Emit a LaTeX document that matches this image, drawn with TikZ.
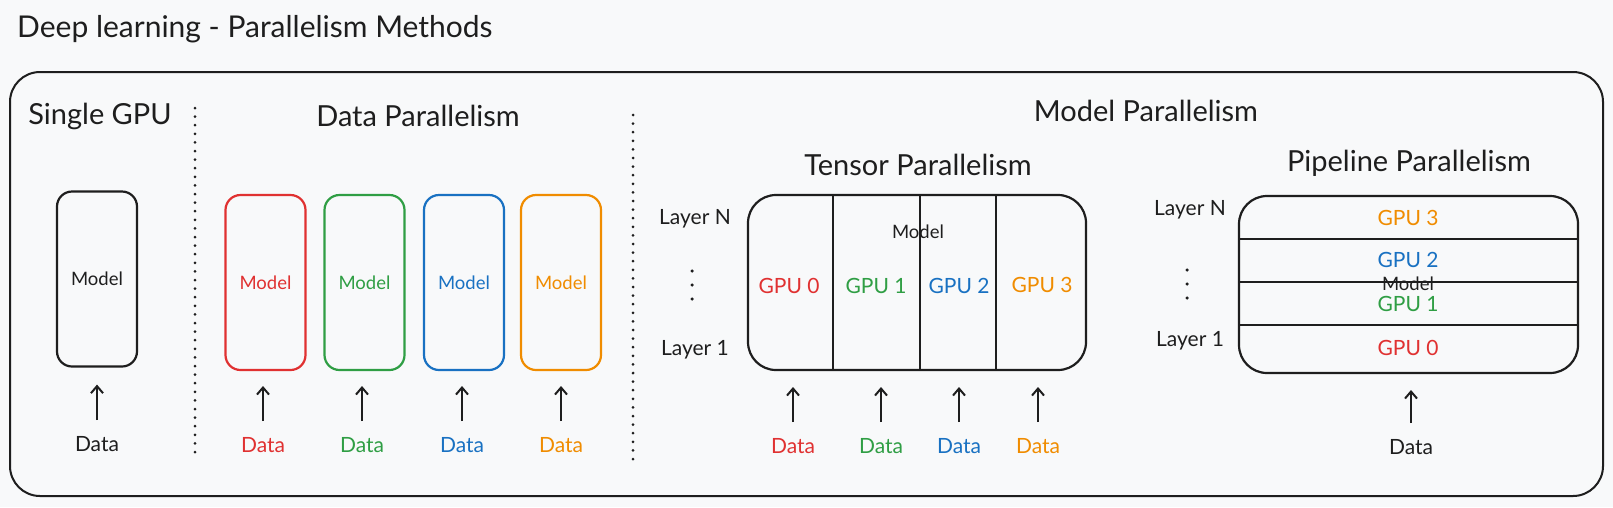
\documentclass[tikz,border=0pt]{standalone}
\usepackage{fontspec}
\setmainfont{Lato}
\usetikzlibrary{arrows.meta,calc}
\definecolor{bg}{HTML}{F8F9FA}
\definecolor{ink}{HTML}{1E1E1E}
\definecolor{cred}{HTML}{E03131}
\definecolor{cgreen}{HTML}{2F9E44}
\definecolor{cblue}{HTML}{1971C2}
\definecolor{corange}{HTML}{F08C00}
\begin{document}
\begin{tikzpicture}[x=1pt,y=-1pt,
  every node/.style={inner sep=0pt, text=ink},
  maintitle/.style={font=\fontsize{30}{34}\selectfont, anchor=west},
  ttl/.style={font=\fontsize{29}{33}\selectfont},
  lbl/.style={font=\fontsize{21}{25}\selectfont},
  modl/.style={font=\fontsize{18.5}{22}\selectfont},
  gpu/.style={font=\fontsize{21}{25}\selectfont},
  mbox/.style={draw=#1, text=#1, line width=2.2pt, rounded corners=15pt, minimum width=80pt, minimum height=175pt, font=\fontsize{18.5}{22}\selectfont},
  bigbox/.style={draw=ink, line width=2.2pt, rounded corners=28pt},
  divider/.style={draw=ink, line width=2.4pt},
  arr/.style={draw=ink, line width=2pt, -{Straight Barb[length=7pt,width=12pt]}},
  sep/.style={draw=ink, line width=3pt, line cap=round, dash pattern=on 0pt off 8.6pt},
  dot/.style={fill=ink, circle, minimum size=3.5pt},
]
\useasboundingbox (0,0) rectangle (1613,507);
\fill[bg] (0,0) rectangle (1613,507);

% title and outer frame
\node[maintitle] (title) at (17,29) {Deep learning - Parallelism Methods};
\node[draw=ink, line width=2pt, rounded corners=30pt, minimum width=1593pt, minimum height=424pt] (outer) at (806.5,284) {};

% section titles
\node[ttl] (tsingle) at (100,116) {Single GPU};
\node[ttl] (tdata) at (418,116) {Data Parallelism};
\node[ttl] (tmodel) at (1146,111) {Model Parallelism};
\node[ttl] (ttensor) at (918,165) {Tensor Parallelism};
\node[ttl] (tpipe) at (1409,163) {Pipeline Parallelism};

% separators
\coordinate (s1a) at (195,108);
\coordinate (s1b) at (195,454);
\coordinate (s2a) at (633,115);
\coordinate (s2b) at (633,460);
\draw[sep] (s1a) -- (s1b);
\draw[sep] (s2a) -- (s2b);

% single GPU
\node[mbox=ink] (m0) at (97,279) {Model};
\node[lbl] (d0) at (97,444) {Data};
\draw[arr, shorten <=16pt, shorten >=17pt] (d0) -- (m0);

% data parallelism
\node[mbox=cred] (mr) at (265.5,282.5) {Model};
\node[mbox=cgreen] (mg) at (364.5,282.5) {Model};
\node[mbox=cblue] (mb) at (464,282.5) {Model};
\node[mbox=corange] (mo) at (561,282.5) {Model};
\node[lbl, text=cred] (dr) at (263,445) {Data};
\node[lbl, text=cgreen] (dg) at (362,445) {Data};
\node[lbl, text=cblue] (db) at (462,445) {Data};
\node[lbl, text=corange] (do) at (561,445) {Data};
\coordinate (mrb) at (263,370);
\coordinate (mgb) at (362,370);
\coordinate (mbb) at (462,370);
\coordinate (mob) at (561,370);
\draw[arr, shorten <=16pt, shorten >=16pt] (dr) -- (mrb);
\draw[arr, shorten <=16pt, shorten >=16pt] (dg) -- (mgb);
\draw[arr, shorten <=16pt, shorten >=16pt] (db) -- (mbb);
\draw[arr, shorten <=16pt, shorten >=16pt] (do) -- (mob);

% tensor parallelism
\node[bigbox, minimum width=338pt, minimum height=175pt] (tb) at (917,282.5) {};
\draw[divider] (833,195) -- (833,370);
\draw[divider] (920,195) -- (920,370);
\draw[divider] (996,195) -- (996,370);
\node[modl] (tmod) at (918,232) {Model};
\node[gpu, text=cred] (tg0) at (789,286) {GPU 0};
\node[gpu, text=cgreen] (tg1) at (876,286) {GPU 1};
\node[gpu, text=cblue] (tg2) at (959,286) {GPU 2};
\node[gpu, text=corange] (tg3) at (1042,285) {GPU 3};
\node[lbl] (tln) at (695,219) {Layer N};
\node[lbl] (tl1) at (695,350) {Layer 1};
\node[dot] (tdA) at (692,271) {};
\node[dot] (tdB) at (692,285) {};
\node[dot] (tdC) at (692,299) {};
\node[lbl, text=cred] (td0) at (793,446) {Data};
\node[lbl, text=cgreen] (td1) at (881,446) {Data};
\node[lbl, text=cblue] (td2) at (959,446) {Data};
\node[lbl, text=corange] (td3) at (1038,446) {Data};
\coordinate (tb0) at (793,370);
\coordinate (tb1) at (881,370);
\coordinate (tb2) at (959,370);
\coordinate (tb3) at (1038,370);
\draw[arr, shorten <=16pt, shorten >=17pt] (td0) -- (tb0);
\draw[arr, shorten <=16pt, shorten >=17pt] (td1) -- (tb1);
\draw[arr, shorten <=16pt, shorten >=17pt] (td2) -- (tb2);
\draw[arr, shorten <=16pt, shorten >=17pt] (td3) -- (tb3);

% pipeline parallelism
\node[bigbox, minimum width=339pt, minimum height=177pt] (pb) at (1408.5,284.5) {};
\draw[divider] (1239,239) -- (1578,239);
\draw[divider] (1239,282) -- (1578,282);
\draw[divider] (1239,325) -- (1578,325);
\node[gpu, text=corange] (pg3) at (1408,218) {GPU 3};
\node[gpu, text=cblue] (pg2) at (1408,260) {GPU 2};
\node[modl] (pmod) at (1408,284) {Model};
\node[gpu, text=cgreen] (pg1) at (1408,304) {GPU 1};
\node[gpu, text=cred] (pg0) at (1408,348) {GPU 0};
\node[lbl] (pln) at (1190,210) {Layer N};
\node[lbl] (pl1) at (1190,341) {Layer 1};
\node[dot] (pdA) at (1187,270) {};
\node[dot] (pdB) at (1187,284) {};
\node[dot] (pdC) at (1187,298) {};
\node[lbl] (pd) at (1411,447) {Data};
\coordinate (pbb) at (1411,373);
\draw[arr, shorten <=16pt, shorten >=17pt] (pd) -- (pbb);
\end{tikzpicture}
\end{document}
